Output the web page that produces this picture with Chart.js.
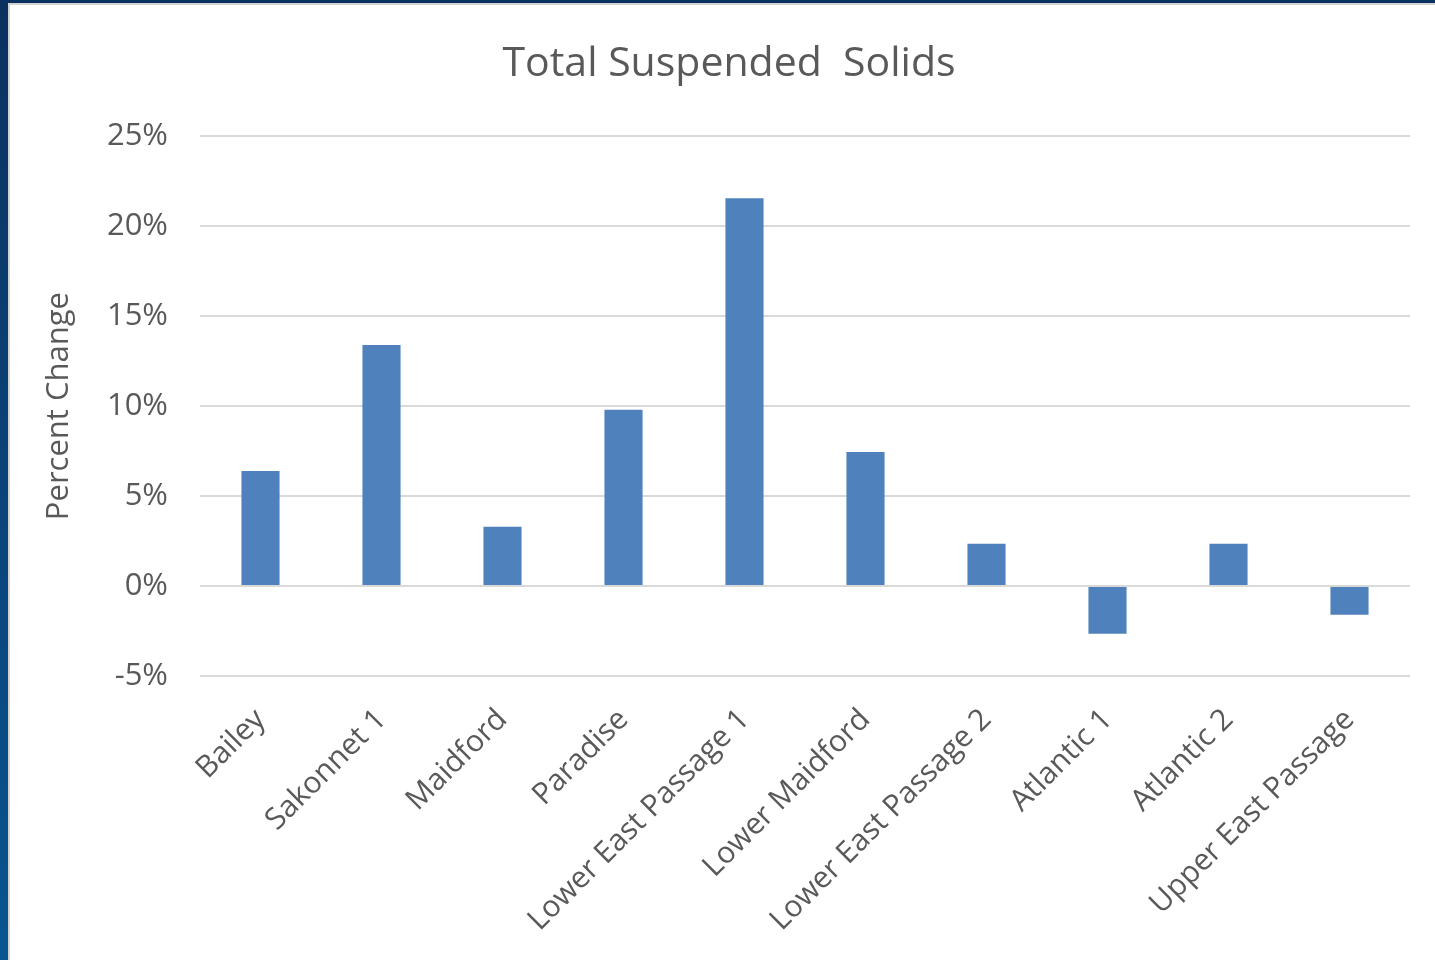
<!DOCTYPE html>
<html>
<head>
<meta charset="utf-8">
<script src="https://cdn.jsdelivr.net/npm/chart.js@4/dist/chart.umd.min.js"></script>
<style>
  html, body { margin: 0; padding: 0; background: #fff; overflow: hidden; }
  #frame {
    position: absolute; left: 0; top: 0; width: 1435px; height: 960px;
    background: linear-gradient(to bottom, #0b3160, #0a5590);
  }
  #sheet {
    position: absolute; left: 8px; top: 3px; width: 1427px; height: 957px;
    background: #fff; border-left: 2px solid #d2d2d2; border-top: 2px solid #d2d2d2;
  }
  #wrap { position: absolute; left: 0; top: 0; width: 1425px; height: 955px; }
</style>
</head>
<body>
<div id="frame"><div id="sheet"><div id="wrap"><canvas id="chart"></canvas></div></div></div>
<script>
// ── Dados
const sites = [
  "Bailey", "Sakonnet 1", "Maidford", "Paradise", "Lower East Passage 1",
  "Lower Maidford", "Lower East Passage 2", "Atlantic 1", "Atlantic 2", "Upper East Passage",
];
const pctChange = [6.4, 13.4, 3.3, 9.8, 21.55, 7.45, 2.35, -2.65, 2.35, -1.6];
const yMin = -5, yMax = 25, yStep = 5;

const FONT = "'Open Sans', 'Liberation Sans', sans-serif";
const GREY = "#595959";

new Chart(document.getElementById("chart"), {
  type: "bar",
  data: {
    labels: sites,
    datasets: [{
      label: "Percent Change",
      data: pctChange,
      backgroundColor: "#4f81bd",
      categoryPercentage: 1,
      barPercentage: 0.315,
    }],
  },
  options: {
    responsive: true,
    maintainAspectRatio: false,
    animation: false,
    layout: { padding: { left: 38, right: 25, top: 0, bottom: 0 } },
    plugins: {
      legend: { display: false },
      tooltip: { enabled: false },
      title: {
        display: true,
        text: "Total Suspended  Solids",
        color: GREY,
        font: { family: FONT, size: 41, weight: "normal" },
        padding: { top: 35, bottom: 47 },
      },
    },
    scales: {
      x: {
        grid: { display: false },
        border: { display: false },
        ticks: {
          color: GREY,
          font: { family: FONT, size: 30 },
          minRotation: 45,
          maxRotation: 45,
          padding: 18,
        },
        afterFit: s => { s.height = 284; },
      },
      y: {
        min: yMin,
        max: yMax,
        grid: { color: "#d9d9d9", lineWidth: 2, drawTicks: false },
        border: { display: false },
        ticks: {
          stepSize: yStep,
          color: GREY,
          font: { family: FONT, size: 31 },
          padding: 32,
          callback: v => v + "%",
        },
        title: {
          display: true,
          text: "Percent Change",
          color: GREY,
          font: { family: FONT, size: 31 },
          padding: { top: -7, bottom: 0 },
        },
        afterFit: s => { s.width = 152; },
      },
    },
  },
});
</script>
</body>
</html>
